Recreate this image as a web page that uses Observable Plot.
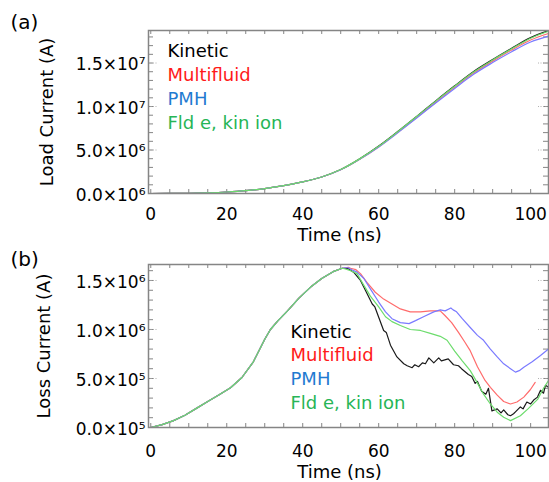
<!DOCTYPE html>
<html>
<head>
<meta charset="utf-8">
<script src="https://cdn.jsdelivr.net/npm/d3@7"></script>
<script src="https://cdn.jsdelivr.net/npm/@observablehq/plot@0.6"></script>
<style>
  body { margin: 0; background: #fff; font-family: "DejaVu Sans", sans-serif; }
  #chart { width: 549px; height: 482px; overflow: hidden; }
  #chart svg { display: block; }
</style>
</head>
<body>
<div id="chart"></div>
<script>
// ---------- data ----------
const seriesNames = ["Kinetic", "Multifluid", "PMH", "Fld e, kin ion"];
const lineColors = ["#1a1a1a", "#ff6b6b", "#7a7aff", "#6cdc6c"];
const legendColors = ["#000000", "#ff1a1a", "#1f7bd1", "#27b556"];

const xTicks = [0, 20, 40, 60, 80, 100];
const loadTicks = [0, 5e6, 1e7, 1.5e7];
const loadTickLabels = ["0.0×10⁶", "5.0×10⁶", "1.0×10⁷", "1.5×10⁷"];
const lossTicks = [0, 5e5, 1e6, 1.5e6];
const lossTickLabels = ["0.0×10⁵", "5.0×10⁵", "1.0×10⁶", "1.5×10⁶"];

// Load current (units of 1e6 A)
const loadTime = [0, 5, 10, 15, 20, 25, 30, 35, 40, 45, 50, 55, 60, 65, 70, 75, 80, 85, 90, 95, 100, 104.7];
const loadKinetic    = [0, 0.005, 0.03, 0.08, 0.17, 0.32, 0.56, 0.9, 1.33, 1.9, 2.75, 3.98, 5.45, 7.12, 8.87, 10.65, 12.38, 14.03, 15.4, 16.7, 17.92, 18.72];
const loadMultifluid = [0, 0.005, 0.03, 0.08, 0.17, 0.32, 0.56, 0.9, 1.33, 1.9, 2.73, 3.93, 5.35, 7.0, 8.72, 10.48, 12.2, 13.85, 15.22, 16.5, 17.65, 18.4];
const loadPMH        = [0, 0.005, 0.03, 0.08, 0.17, 0.32, 0.56, 0.9, 1.33, 1.9, 2.73, 3.93, 5.35, 6.98, 8.68, 10.4, 12.08, 13.7, 15.05, 16.3, 17.42, 18.1];
const loadFldKin     = [0, 0.005, 0.03, 0.08, 0.17, 0.32, 0.56, 0.9, 1.33, 1.9, 2.75, 3.98, 5.42, 7.1, 8.85, 10.62, 12.33, 13.97, 15.35, 16.63, 17.85, 18.65];

// Loss current (units of 1e6 A): common rise, then per-series tails
const lossRiseTime  = [0, 3, 6, 9, 12, 15, 18, 21, 24, 27, 30, 31.5, 33.5, 36, 39, 42, 45, 48, 50.4];
const lossRiseValue = [0, 0.03, 0.07, 0.125, 0.195, 0.265, 0.335, 0.405, 0.51, 0.67, 0.9, 1.0, 1.09, 1.19, 1.32, 1.43, 1.52, 1.59, 1.625];

const lossKineticTime  = [52, 53.4, 55.2, 56.5, 58.3, 59, 60, 61.3, 62, 63.1, 64.8, 66.6, 67.5, 68.8, 69.5, 70.5, 71.5, 72.3, 73.2, 74.5, 75.8, 76.5, 78.3, 79.7, 81, 81.8, 83.6, 84.5, 85.4, 86, 87.1, 88.2, 88.9, 89.8, 91.2, 92.2, 92.9, 94, 94.7, 95.5, 96, 97.3, 98, 99, 100, 100.8, 101.8, 102.6, 103.4, 103.9, 104.7];
const lossKineticValue = [1.62, 1.585, 1.5, 1.4, 1.26, 1.23, 1.125, 0.99, 0.97, 0.84, 0.72, 0.65, 0.63, 0.61, 0.64, 0.62, 0.66, 0.65, 0.71, 0.66, 0.71, 0.68, 0.7, 0.64, 0.63, 0.6, 0.54, 0.52, 0.45, 0.47, 0.37, 0.34, 0.4, 0.17, 0.19, 0.15, 0.18, 0.13, 0.12, 0.14, 0.16, 0.21, 0.19, 0.26, 0.24, 0.28, 0.31, 0.38, 0.35, 0.43, 0.41];

const lossMultiTime  = [52, 52.6, 54, 55.2, 56.9, 59.1, 61.3, 63.5, 65.7, 68.3, 71, 73.6, 76.2, 77.5, 79.2, 81, 82.7, 84, 86, 88, 89.4, 91.2, 92.9, 94.7, 96.4, 98.2, 99.9, 101.2];
const lossMultiValue = [1.635, 1.625, 1.61, 1.57, 1.48, 1.38, 1.31, 1.26, 1.21, 1.18, 1.18, 1.19, 1.19, 1.14, 1.07, 0.97, 0.87, 0.79, 0.62, 0.48, 0.41, 0.33, 0.265, 0.24, 0.26, 0.31, 0.385, 0.46];

const lossPMHTime  = [51, 52, 53.4, 54.3, 56.1, 57.8, 60, 61.8, 63.5, 65.7, 68, 69.7, 71.8, 74.5, 76.2, 77.5, 79, 79.6, 80.5, 82, 84.1, 86, 87.6, 89.4, 91.2, 92.9, 94.7, 96, 97, 98.2, 100.4, 102.6, 104.7];
const lossPMHValue = [1.63, 1.63, 1.6, 1.585, 1.52, 1.415, 1.28, 1.18, 1.11, 1.07, 1.06, 1.09, 1.13, 1.18, 1.2, 1.19, 1.22, 1.2, 1.18, 1.11, 1.02, 0.94, 0.89, 0.8, 0.72, 0.65, 0.6, 0.565, 0.58, 0.615, 0.67, 0.735, 0.8];

const lossFldTime  = [51, 52.6, 54.3, 56.1, 57.8, 60, 61.8, 63.5, 65.7, 68.3, 71, 73.6, 76.2, 78, 80, 82, 84.1, 85.9, 87.6, 89.4, 91.2, 92.9, 94.7, 97.3, 99.3, 101.9, 103.4, 104.7];
const lossFldValue = [1.62, 1.6, 1.57, 1.45, 1.34, 1.23, 1.13, 1.08, 1.04, 1.0, 0.99, 0.96, 0.93, 0.89, 0.78, 0.68, 0.58, 0.46, 0.34, 0.24, 0.156, 0.105, 0.07, 0.12, 0.19, 0.29, 0.4, 0.48];

// ---------- build tables ----------
const MEGA = 1e6;
function rows(times, values) { return times.map((t, i) => ({t, v: values[i] * MEGA})); }
const loadSeries = [
  rows(loadTime, loadKinetic), rows(loadTime, loadMultifluid),
  rows(loadTime, loadPMH), rows(loadTime, loadFldKin)
];
const rise = rows(lossRiseTime, lossRiseValue);
const lossSeries = [
  rise.concat(rows(lossKineticTime, lossKineticValue)),
  rise.concat(rows(lossMultiTime, lossMultiValue)),
  rise.concat(rows(lossPMHTime, lossPMHValue)),
  rise.concat(rows(lossFldTime, lossFldValue))
];

// ---------- layout ----------
const W = 549, ML = 148, MR = 1;
const FRAME_W = W - ML - MR;
const xDomain = [-0.6, 104.7];
const xMinor = d3.range(0, 105, 5);
const GRAY = "#858585";

function frameTicks(xMinorVals, yMinorVals, yMajorVals, frameH) {
  const tick = {stroke: GRAY, strokeWidth: 1};
  const dot = {stroke: "#b0b0b0", strokeWidth: 1, strokeDasharray: "1,1.5"};
  return [
    Plot.ruleX(xMinorVals, {x: d => d, insetTop: frameH - 4, ...tick}),
    Plot.ruleX(xMinorVals, {x: d => d, insetBottom: frameH - 4, ...tick}),
    Plot.ruleY(yMinorVals, {y: d => d, insetRight: FRAME_W - 5, ...tick}),
    Plot.ruleY(yMinorVals, {y: d => d, insetLeft: FRAME_W - 5, ...tick}),
    Plot.ruleY(yMajorVals, {y: d => d, insetRight: FRAME_W - 10, ...dot}),
    Plot.ruleY(yMajorVals, {y: d => d, insetLeft: FRAME_W - 10, ...dot})
  ];
}

function legend(dxPx, firstBaseline, step) {
  return seriesNames.map((name, i) =>
    Plot.text([name], {
      frameAnchor: "top-left", dx: dxPx, dy: firstBaseline + i * step,
      textAnchor: "start", lineAnchor: "bottom", fill: legendColors[i], fontSize: 18
    })
  );
}

function panel({height, marginTop, marginBottom, yDomain, yTicks, yLabels, yMinorVals, series, curve,
                yTitle, yTitleDx, panelLabel, panelDy, tickPad, timeDy, legendDx, legendY0}) {
  const frameH = height - marginTop - marginBottom;
  return Plot.plot({
    width: W, height, marginLeft: ML, marginRight: MR, marginTop, marginBottom,
    style: {fontFamily: "DejaVu Sans, sans-serif", fontSize: "17px", color: "#000", background: "#fff", overflow: "visible"},
    x: {domain: xDomain},
    y: {domain: yDomain},
    marks: [
      ...frameTicks(xMinor, yMinorVals, yTicks, frameH),
      ...series.map((s, i) => Plot.line(s, {x: "t", y: "v", stroke: lineColors[i], strokeWidth: 1.2, curve})),
      Plot.frame({stroke: GRAY, strokeWidth: 1.5}),
      Plot.axisX(xTicks, {anchor: "bottom", tickSize: 0, tickPadding: tickPad, fontSize: 17, label: null}),
      Plot.axisY(yTicks, {anchor: "left", tickSize: 0, tickPadding: 3, fontSize: 17, dy: 2, label: null,
                          tickFormat: d => yLabels[yTicks.indexOf(d)]}),
      Plot.text(["Time (ns)"], {frameAnchor: "bottom", dx: -9, dy: timeDy, lineAnchor: "bottom", fontSize: 18}),
      Plot.text([yTitle], {frameAnchor: "left", dx: yTitleDx, rotate: -90, textAnchor: "middle", lineAnchor: "middle", fontSize: 18}),
      Plot.text([panelLabel], {frameAnchor: "top-left", dx: -138, dy: panelDy, textAnchor: "start", lineAnchor: "middle", fontSize: 20}),
      ...legend(legendDx, legendY0, 23.9)
    ]
  });
}

const topPanel = panel({
  height: 245, marginTop: 30, marginBottom: 52,
  yDomain: [0, 1.874e7], yTicks: loadTicks, yLabels: loadTickLabels,
  yMinorVals: d3.range(0, 1.85e7, 1e6), series: loadSeries, curve: "monotone-x",
  yTitle: "Load Current (A)", yTitleDx: -101, panelLabel: "(a)", panelDy: -8,
  tickPad: 14, timeDy: 47, legendDx: 19, legendY0: 26.7
});
const bottomPanel = panel({
  height: 237, marginTop: 19, marginBottom: 55,
  yDomain: [0, 1.663e6], yTicks: lossTicks, yLabels: lossTickLabels,
  yMinorVals: d3.range(0, 1.65e6, 1e5), series: lossSeries, curve: "linear",
  yTitle: "Loss Current (A)", yTitleDx: -104, panelLabel: "(b)", panelDy: -5,
  tickPad: 17, timeDy: 50, legendDx: 142, legendY0: 73
});
const host = document.getElementById("chart");
host.appendChild(topPanel);
host.appendChild(bottomPanel);
</script>
</body>
</html>
